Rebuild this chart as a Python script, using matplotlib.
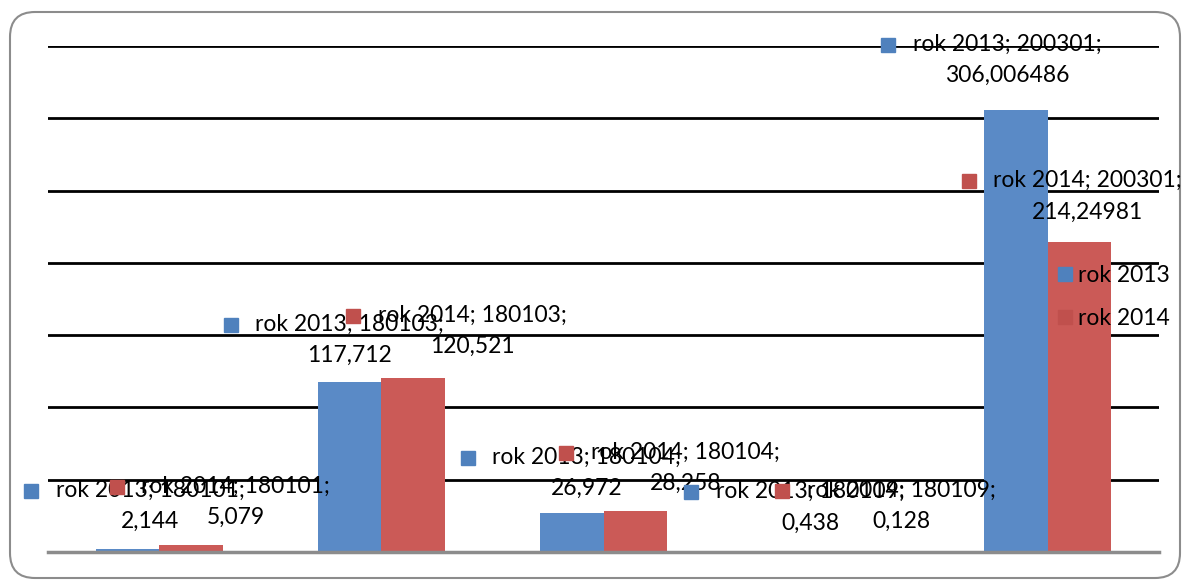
import matplotlib
matplotlib.use('Agg')
import matplotlib.pyplot as plt
import numpy as np
from matplotlib.patches import FancyBboxPatch
from matplotlib.lines import Line2D
from matplotlib.transforms import offset_copy, IdentityTransform

categories = ['180101', '180103', '180104', '180109', '200301']
series = ['rok 2013', 'rok 2014']
values_2013 = [2.144, 117.712, 26.972, 0.438, 306.006486]
values_2014 = [5.079, 120.521, 28.258, 0.128, 214.24981]
label_2013 = ['2,144', '117,712', '26,972', '0,438', '306,006486']
label_2014 = ['5,079', '120,521', '28,258', '0,128', '214,24981']

colors = ['#5A8AC6', '#CB5A57']
mark_colors = ['#4F81BD', '#C0504D']
# label offsets (pixels) from bar top centre: dx, dy
offs_2013 = [(23, 43), (0, 42), (15, 40), (16, 44), (-9, 50)]
offs_2014 = [(45, 43), (59, 47), (50, 43), (44, 46), (8, 46)]

plt.rcParams['font.family'] = ['Lato', 'DejaVu Sans']
FS = 16.5
DPI = 100
px = 72.0 / DPI

fig = plt.figure(figsize=(11.86, 5.8), dpi=DPI)
W, H = 1186, 580
border = FancyBboxPatch((10, 2), 1170, 566,
                        boxstyle='round,pad=0,rounding_size=25',
                        transform=IdentityTransform(), fc='none',
                        ec='#8c8c8c', lw=1.5, zorder=-1)
fig.patches.append(border)

ax = fig.add_axes([48 / W, 28 / H, 1111 / W, 506 / H])
x = np.arange(len(categories))
bw = 0.2855
b1 = ax.bar(x - bw / 2, values_2013, bw, color=colors[0], zorder=2)
b2 = ax.bar(x + bw / 2, values_2014, bw, color=colors[1], zorder=2)

ax.set_xlim(-0.5, len(categories) - 0.5)
ax.set_ylim(0, 350)
ax.set_yticks(np.arange(50, 351, 50))
ax.yaxis.grid(True, color='black', lw=2, zorder=1)
ax.set_axisbelow(True)
for s in ['top', 'right', 'left']:
    ax.spines[s].set_visible(False)
ax.spines['bottom'].set_color('#8c8c8c')
ax.spines['bottom'].set_linewidth(2.5)
ax.set_xticks([])
ax.tick_params(left=False, labelleft=False)
ax.patch.set_alpha(0)


def add_labels(bars, vals, labels, offs, name, color):
    for rect, v, lab, cat, (dx, dy) in zip(bars, vals, labels, categories, offs):
        xc = rect.get_x() + rect.get_width() / 2
        ax.annotate('{}; {};\n{}'.format(name, cat, lab),
                    xy=(xc, v), xytext=(dx * px, dy * px),
                    textcoords='offset points', ha='center', va='center',
                    multialignment='center', fontsize=FS, linespacing=1.6,
                    zorder=5, annotation_clip=False)
        tr = offset_copy(ax.transData, fig=fig, x=(dx - 119) * px,
                         y=(dy + 15) * px, units='points')
        ax.plot([xc], [v], 's', color=color, ms=10, transform=tr,
                clip_on=False, zorder=6)


add_labels(b1, values_2013, label_2013, offs_2013, series[0], mark_colors[0])
add_labels(b2, values_2014, label_2014, offs_2014, series[1], mark_colors[1])

handles = [Line2D([], [], marker='s', ls='', color=c, ms=10) for c in mark_colors]
leg = ax.legend(handles, series, loc='center left',
                bbox_to_anchor=(1037 / W, (580 - 297) / H),
                bbox_transform=fig.transFigure, frameon=False, fontsize=FS,
                handlelength=0.6, handletextpad=0.3, labelspacing=1.0)
leg.set_zorder(7)

fig.savefig('out.png', dpi=DPI)
